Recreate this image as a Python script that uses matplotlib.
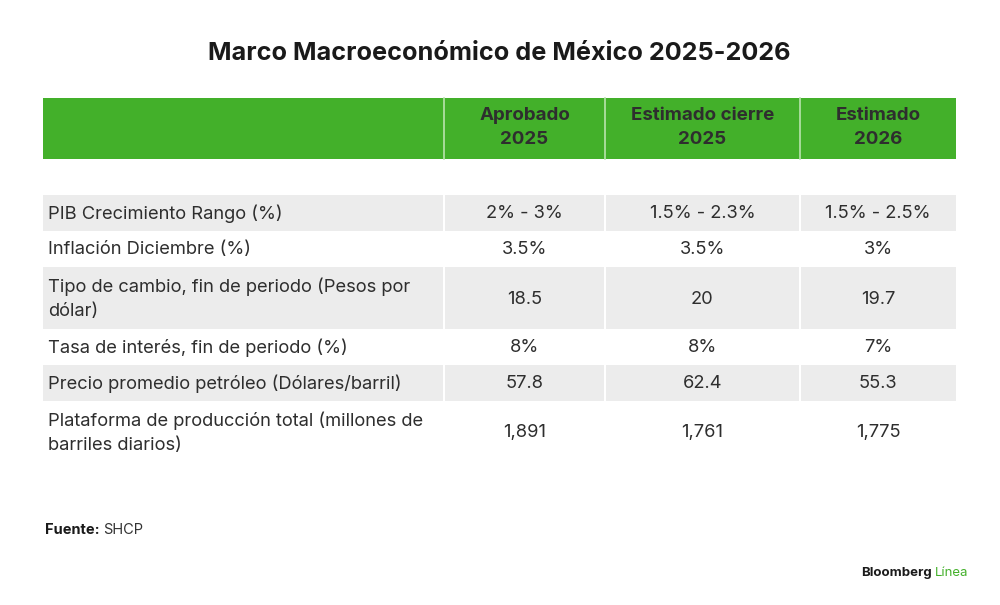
import matplotlib.pyplot as plt
from matplotlib.patches import Rectangle

# datos de la tabla
titulo = "Marco Macroeconómico de México 2025-2026"
columnas = ["Aprobado\n2025", "Estimado cierre\n2025", "Estimado\n2026"]
filas = [
    "PIB Crecimiento Rango (%)",
    "Inflación Diciembre (%)",
    "Tipo de cambio, fin de periodo (Pesos por\ndólar)",
    "Tasa de interés, fin de periodo (%)",
    "Precio promedio petróleo (Dólares/barril)",
    "Plataforma de producción total (millones de\nbarriles diarios)",
]
aprobado_2025 = ["2% - 3%", "3.5%", "18.5", "8%", "57.8", "1,891"]
cierre_2025 = ["1.5% - 2.3%", "3.5%", "20", "8%", "62.4", "1,761"]
estimado_2026 = ["1.5% - 2.5%", "3%", "19.7", "7%", "55.3", "1,775"]
fuente = "SHCP"

plt.rcParams['font.family'] = ['Inter', 'DejaVu Sans']

verde = '#43b02a'
gris = '#ececec'
texto = '#2e2e2e'

fig = plt.figure(figsize=(10, 6.05), dpi=100)
ax = fig.add_axes([0, 0, 1, 1])
ax.set_xlim(0, 1000)
ax.set_ylim(605, 0)
ax.axis('off')

# bordes de columnas (px)
bordes = [43, 444, 605, 800, 956]
y_head, h_head = 98, 61
y0 = 195
alturas = [36 if '\n' not in f else 62 for f in filas]

ax.text(499, 54, titulo, ha='center', va='center', fontsize=18.2,
        fontweight='bold', color='#1a1a1a')

# encabezado
ax.add_patch(Rectangle((bordes[0], y_head), bordes[-1] - bordes[0], h_head,
                       color=verde, lw=0))
for j, col in enumerate(columnas):
    xc = (bordes[j + 1] + bordes[j + 2]) / 2
    ax.text(xc, y_head + h_head / 2 - 1, col, ha='center', va='center',
            fontsize=13.5, fontweight='bold', color=texto, linespacing=1.55)
for b in bordes[1:-1]:
    ax.plot([b, b], [y_head, y_head + h_head], color='#b9e3ad', lw=1.2)

valores = list(zip(aprobado_2025, cierre_2025, estimado_2026))
y = y0
for i, fila in enumerate(filas):
    h = alturas[i]
    if i % 2 == 0:
        ax.add_patch(Rectangle((bordes[0], y), bordes[-1] - bordes[0], h,
                               color=gris, lw=0))
        for b in bordes[1:-1]:
            ax.plot([b, b], [y, y + h], color='white', lw=1.5)
    ax.text(bordes[0] + 5, y + h / 2 + 1, fila, ha='left', va='center',
            fontsize=13.2, color=texto, linespacing=1.55)
    for j, v in enumerate(valores[i]):
        xc = (bordes[j + 1] + bordes[j + 2]) / 2
        ax.text(xc, y + h / 2 + 1, v, ha='center', va='center',
                fontsize=13.2, color=texto)
    y += h

# pie
t = ax.text(45, 530, "Fuente:", ha='left', va='center', fontsize=10.5,
            fontweight='bold', color='#1a1a1a')
fig.canvas.draw()
bb = t.get_window_extent().transformed(ax.transData.inverted())
ax.text(bb.x1 + 3, 530, fuente, ha='left', va='center', fontsize=10.5,
        color='#333333')

t2 = ax.text(968, 573, "Línea", ha='right', va='center', fontsize=9.5,
             color=verde)
fig.canvas.draw()
bb2 = t2.get_window_extent().transformed(ax.transData.inverted())
ax.text(bb2.x0 - 3, 573, "Bloomberg", ha='right', va='center', fontsize=9.5,
        fontweight='bold', color='#1a1a1a')

fig.savefig('out.png', dpi=100, facecolor='white')
